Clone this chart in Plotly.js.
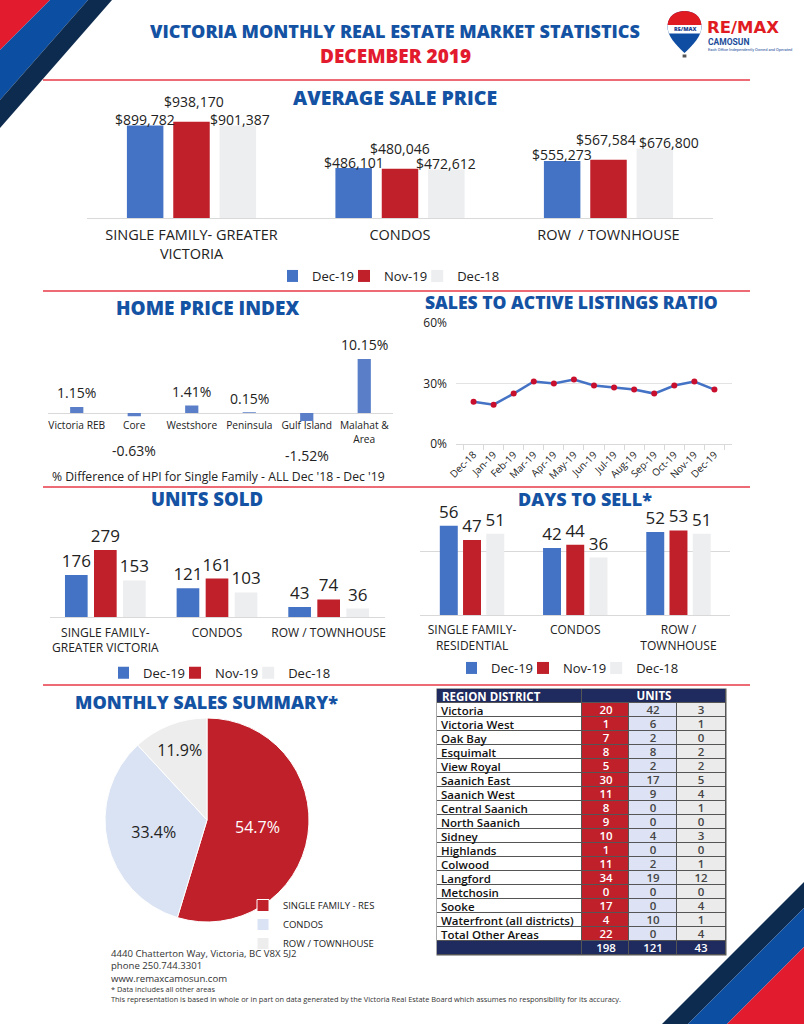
<!DOCTYPE html>
<html><head><meta charset="utf-8">
<script src="https://cdn.plot.ly/plotly-3.0.1.min.js"></script>
<style>html,body{margin:0;padding:0;background:#fff;}#chart{width:804px;height:1024px;}</style>
</head><body><div id="chart"></div>
<script>
// ---------------- DATA ----------------
const seriesNames = ['Dec-19', 'Nov-19', 'Dec-18'];

const priceCategories = ['SINGLE FAMILY- GREATER<br>VICTORIA', 'CONDOS', 'ROW  / TOWNHOUSE'];
const priceDec19 = [899782, 486101, 555273];
const priceNov19 = [938170, 480046, 567584];
const priceDec18 = [901387, 472612, 676800];

const hpiCategories = ['Victoria REB', 'Core', 'Westshore', 'Peninsula', 'Gulf Island', 'Malahat &<br>Area'];
const hpiChange = [1.15, -0.63, 1.41, 0.15, -1.52, 10.15];

const ratioMonths = ['Dec-18', 'Jan-19', 'Feb-19', 'Mar-19', 'Apr-19', 'May-19', 'Jun-19', 'Jul-19', 'Aug-19', 'Sep-19', 'Oct-19', 'Nov-19', 'Dec-19'];
const ratioValues = [21, 19.5, 25, 31, 30, 32, 29, 28, 27, 25, 29, 31, 27];
const ratioTicks = [0, 30, 60];

const unitsCategories = ['SINGLE FAMILY-<br>GREATER VICTORIA', 'CONDOS', 'ROW / TOWNHOUSE'];
const unitsDec19 = [176, 121, 43];
const unitsNov19 = [279, 161, 74];
const unitsDec18 = [153, 103, 36];

const daysCategories = ['SINGLE FAMILY-<br>RESIDENTIAL', 'CONDOS', 'ROW /<br>TOWNHOUSE'];
const daysDec19 = [56, 42, 52];
const daysNov19 = [47, 44, 53];
const daysDec18 = [51, 36, 51];

const pieLabels = ['SINGLE FAMILY - RES', 'CONDOS', 'ROW / TOWNHOUSE'];

const tableHeader = ['REGION DISTRICT', 'UNITS'];
const tableRegions = ['Victoria', 'Victoria West', 'Oak Bay', 'Esquimalt', 'View Royal', 'Saanich East', 'Saanich West', 'Central Saanich', 'North Saanich', 'Sidney', 'Highlands', 'Colwood', 'Langford', 'Metchosin', 'Sooke', 'Waterfront (all districts)', 'Total Other Areas'];
const tableSingleFamily = [20, 1, 7, 8, 5, 30, 11, 8, 9, 10, 1, 11, 34, 0, 17, 4, 22];
const tableCondos = [42, 6, 2, 8, 2, 17, 9, 0, 0, 4, 0, 2, 19, 0, 0, 10, 0];
const tableRow = [3, 1, 0, 2, 2, 5, 4, 1, 0, 3, 0, 1, 12, 0, 4, 1, 4];
const tableTotals = [198, 121, 43];

// ---------------- STYLE ----------------
const FONT = "'Open Sans', 'Noto Sans', sans-serif";
const BLUE = '#4472c4', RED = '#c0202a', GREY = '#edeef0';
const TITLE = '#1452a3', BRAND_RED = '#e31b2f', NAVY = '#1f2a5e';
const INK = '#222222', RULE = '#e63a46', AXIS = '#d9d9d9';
const W = 804, H = 1024;
const X = p => p / W;
const Y = p => 1 - p / H;
const dx = (a, b) => [X(a), X(b)];
const dy = (top, bottom) => [Y(bottom), Y(top)];
function pathPx(s) {
  const t = s.trim().split(/\s+/); const out = []; let isX = true;
  t.forEach(tok => {
    if (/^[A-Za-z]$/.test(tok)) out.push(tok);
    else { const n = parseFloat(tok); out.push((isX ? X(n) : Y(n)).toFixed(5)); isX = !isX; }
  });
  return out.join(' ');
}
const money = v => '$' + v.toLocaleString('en-US');

const shapes = [];
const ann = [];
function poly(d, color) { shapes.push({type: 'path', xref: 'paper', yref: 'paper', path: pathPx(d), fillcolor: color, line: {width: 0}, layer: 'below'}); }
function rule(y, x0, x1) { shapes.push({type: 'line', xref: 'paper', yref: 'paper', x0: X(x0), x1: X(x1), y0: Y(y), y1: Y(y), line: {color: RULE, width: 1.5}}); }
function txt(x, y, text, size, color, extra, weight, family) {
  ann.push(Object.assign({xref: 'paper', yref: 'paper', x: X(x), y: Y(y), text: text, showarrow: false,
    xanchor: 'center', yanchor: 'middle', font: {family: family || FONT, size: size, color: color, weight: weight || 400}}, extra || {}));
}
function title(x, y, text, size, color) { txt(x, y, text, size, color, {}, 800); }

// corner stripes
poly('M 0 0 L 50 0 L 0 50 Z', BRAND_RED);
poly('M 50 0 L 88 0 L 0 100 L 0 50 Z', '#0b4ea2');
poly('M 88 0 L 112 0 L 0 128 L 0 100 Z', '#0d2b4e');
poly('M 804 882 L 804 908 L 688 1024 L 662 1024 Z', '#0d2b4e');
poly('M 804 908 L 804 947 L 727 1024 L 688 1024 Z', '#0b4ea2');
poly('M 804 947 L 804 1024 L 727 1024 Z', BRAND_RED);

// section rules
rule(80, 43, 750); rule(291, 43, 750); rule(487, 43, 750); rule(685, 43, 750);

// logo balloon
poly('M 684.5 53 C 676 45 667 36 667.5 26 C 668 16 676 11 684.5 11 C 693 11 701 16 701.5 26 C 702 36 693 45 684.5 53 Z', '#0f4da2');
poly('M 667.6 25 C 668 16 676 11 684.5 11 C 693 11 701 16 701.4 25 Z', '#e11b22');
poly('M 667.6 25 L 701.4 25 C 701.3 28 701 31 700.2 33.5 L 668.8 33.5 C 668 31 667.7 28 667.6 25 Z', '#ffffff');
poly('M 682.6 54.5 L 686.4 54.5 L 686.4 57.5 L 682.6 57.5 Z', '#555555');
txt(684.5, 29.3, 'RE/MAX', 5.5, '#1b3f8f', {}, 800);
txt(705, 27, 'RE/MAX', 16.5, '#e11b22', {xanchor: 'left'}, 700, "'DejaVu Sans', sans-serif");
txt(706, 42, 'CAMOSUN', 8.5, '#1b4c9a', {xanchor: 'left'}, 700, "Roboto, sans-serif");
txt(706, 49.6, 'Each Office Independently Owned and Operated', 4, '#1b4c9a', {xanchor: 'left'}, 400, "Roboto, sans-serif");

// header + section titles
title(395, 31, 'VICTORIA MONTHLY REAL ESTATE MARKET STATISTICS', 18, TITLE);
title(395, 56, 'DECEMBER 2019', 19, BRAND_RED);
title(395, 97, 'AVERAGE SALE PRICE', 19.5, TITLE);
title(207, 308, 'HOME PRICE INDEX', 19, TITLE);
title(571, 302, 'SALES TO ACTIVE LISTINGS RATIO', 17.5, TITLE);
title(206.5, 498, 'UNITS SOLD', 18.5, TITLE);
title(585, 499, 'DAYS TO SELL*', 18, TITLE);
title(206, 702, 'MONTHLY SALES SUMMARY*', 18, TITLE);
txt(218, 476, "% Difference of HPI for Single Family - ALL Dec '18 - Dec '19", 12.2, INK);

// footer
txt(109, 966, '4440 Chatterton Way, Victoria, BC V8X 5J2<br>phone 250.744.3301<br>www.remaxcamosun.com', 9.6, '#333', {xanchor: 'left', align: 'left'});
txt(109, 993.5, '* Data includes all other areas<br>This representation is based in whole or in part on data generated by the Victoria Real Estate Board which assumes no responsibility for its accuracy.', 7.4, '#333', {xanchor: 'left', align: 'left'});

// ---------------- TRACES ----------------
const colors = [BLUE, RED, GREY];
const traces = [];

function groupBars(seriesList, xa, ya, legendId, slot, width, withText) {
  seriesList.forEach((vals, k) => {
    const t = {type: 'bar', x: vals.map((v, i) => i), y: vals, name: seriesNames[k], xaxis: xa, yaxis: ya,
      offset: (k - 1) * slot - width / 2, width: width, marker: {color: colors[k]}, legend: legendId,
      hoverinfo: 'skip', cliponaxis: false};
    if (withText) {
      Object.assign(t, {text: vals.map(String), textposition: 'outside', textangle: 0, constraintext: 'none',
        textfont: {family: FONT, size: 17, color: INK}});
    }
    traces.push(t);
  });
}

// 1) Average sale price
const slotP = 0.2223, widthP = 0.175;
const priceSeries = [priceDec19, priceNov19, priceDec18];
groupBars(priceSeries, 'x', 'y', 'legend', slotP, widthP, false);
const priceLift = [6, 20, 6];
const priceNudge = [[0, 0, 0], [2, 0, -3], [2, 0, 14]];
priceSeries.forEach((vals, k) => vals.forEach((v, i) => {
  ann.push({xref: 'x', yref: 'y', x: i + (k - 1) * slotP, y: v, text: money(v), showarrow: false,
    xanchor: 'center', yanchor: 'middle', yshift: priceLift[k], xshift: priceNudge[k][i],
    font: {family: FONT, size: 14, color: INK}});
}));

// 2) Home price index
traces.push({type: 'bar', x: hpiChange.map((v, i) => i), y: hpiChange, xaxis: 'x2', yaxis: 'y2', width: 0.23,
  marker: {color: '#5a7fc8'}, showlegend: false, hoverinfo: 'skip'});
hpiChange.forEach((v, i) => {
  ann.push({xref: 'x2', yref: 'y2', x: i, y: v, text: v.toFixed(2) + '%', showarrow: false, xanchor: 'center', yanchor: 'middle',
    yshift: v >= 0 ? 14 : -34, font: {family: FONT, size: 14, color: INK}});
});

// 3) Sales to active listings ratio
traces.push({type: 'scatter', mode: 'lines+markers', x: ratioMonths, y: ratioValues, xaxis: 'x3', yaxis: 'y3',
  line: {color: BLUE, width: 2.5}, marker: {color: '#c8102e', size: 6}, showlegend: false, hoverinfo: 'skip', cliponaxis: false});

// 4) Units sold
groupBars([unitsDec19, unitsNov19, unitsDec18], 'x4', 'y4', 'legend2', 0.26, 0.203, true);

// 5) Days to sell
groupBars([daysDec19, daysNov19, daysDec18], 'x5', 'y5', 'legend3', 0.225, 0.174, true);

// 6) Pie
traces.push({type: 'pie', values: tableTotals, labels: pieLabels, domain: {x: dx(105, 309), y: dy(718, 922)},
  sort: false, direction: 'clockwise', rotation: 0,
  marker: {colors: [RED, '#dae3f3', '#ededed'], line: {color: '#ffffff', width: 1}},
  texttemplate: '%{percent:.1%}', textposition: 'inside', insidetextorientation: 'horizontal',
  insidetextfont: {family: FONT, size: 16, color: ['#ffffff', INK, INK]},
  legend: 'legend4', hoverinfo: 'skip'});

// 7) Table drawn as a heatmap grid
const tableColumnWidths = [144, 47, 47, 49];
const colEdges = [0];
tableColumnWidths.forEach(w => colEdges.push(colEdges[colEdges.length - 1] + w));
const zRows = [[4, 4, 4, 4]], tRows = [['', '', '', '']];
tableRegions.forEach((r, i) => {
  zRows.push([0, 1, 2, 3]);
  tRows.push(['', String(tableSingleFamily[i]), String(tableCondos[i]), String(tableRow[i])]);
});
zRows.push([4, 4, 4, 4]);
tRows.push([''].concat(tableTotals.map(String)));
const rowEdges = zRows.map((r, i) => i - 0.5).concat([zRows.length - 0.5]);
const tableScale = [[0, '#ffffff'], [0.125, '#ffffff'], [0.125, RED], [0.375, RED], [0.375, '#dde3f4'], [0.625, '#dde3f4'],
  [0.625, '#ebebeb'], [0.875, '#ebebeb'], [0.875, NAVY], [1, NAVY]];
const cellStyle = {type: 'heatmap', texttemplate: '%{text}', textfont: {family: FONT, size: 11.5, weight: 600},
  colorscale: tableScale, zmin: 0, zmax: 4, showscale: false, xgap: 1, ygap: 1, xaxis: 'x6', yaxis: 'y6', hoverinfo: 'skip'};
traces.push(Object.assign({}, cellStyle, {x: colEdges, y: rowEdges, z: zRows, text: tRows}));
traces.push(Object.assign({}, cellStyle, {x: [colEdges[0], colEdges[1], colEdges[colEdges.length - 1]], y: [-0.5, 0.5],
  z: [[4, 4]], text: [['', tableHeader[1]]], textfont: {family: FONT, size: 11.5, weight: 700}}));
shapes.push({type: 'rect', xref: 'paper', yref: 'paper', x0: X(436.5), x1: X(726.5), y0: Y(955.5), y1: Y(688.5),
  fillcolor: '#555555', line: {width: 0}, layer: 'below'});
ann.push({xref: 'paper', yref: 'y6', x: X(440), y: 0, text: tableHeader[0], showarrow: false, xanchor: 'left', yanchor: 'middle',
  font: {family: FONT, size: 11.5, color: '#ffffff', weight: 700}});
tableRegions.forEach((r, i) => ann.push({xref: 'paper', yref: 'y6', x: X(439), y: i + 1, text: r, showarrow: false,
  xanchor: 'left', yanchor: 'middle', font: {family: FONT, size: 11.5, color: '#111111', weight: 600}}));

// ---------------- LAYOUT ----------------
const tickFont = (s) => ({family: FONT, size: s, color: INK});
const hpiZeroPx = 413, hpiPpu = 5.32, hpiBottomPx = 440;
const legendBase = {orientation: 'h', xanchor: 'center', yanchor: 'middle', bgcolor: 'rgba(0,0,0,0)',
  font: {family: FONT, size: 13, color: INK}, itemwidth: 30, indentation: -15};

const layout = {
  width: W, height: H, margin: {l: 0, r: 0, t: 0, b: 0}, paper_bgcolor: '#ffffff', plot_bgcolor: 'rgba(0,0,0,0)',
  font: {family: FONT, color: INK}, hovermode: false, shapes: shapes, annotations: ann,
  xaxis: {domain: dx(87.25, 712.75), anchor: 'y', range: [-0.5, 2.5], tickvals: [0, 1, 2], ticktext: priceCategories,
    showgrid: false, zeroline: false, showline: true, linecolor: AXIS, ticks: 'outside', ticklen: 4, tickcolor: 'rgba(0,0,0,0)', tickfont: tickFont(14.5), fixedrange: true},
  yaxis: {domain: dy(218 - 102.7, 218), anchor: 'x', range: [0, 1000000], visible: false, fixedrange: true},
  xaxis2: {domain: dx(48, 393), anchor: 'free', position: Y(hpiZeroPx), range: [-0.5, 5.5], tickvals: [0, 1, 2, 3, 4, 5], ticktext: hpiCategories,
    showgrid: false, zeroline: false, showline: false, ticks: 'outside', ticklen: 3, tickcolor: 'rgba(0,0,0,0)', tickfont: tickFont(10.2), fixedrange: true},
  yaxis2: {domain: dy(hpiZeroPx - 12 * hpiPpu, hpiBottomPx), anchor: 'x2', range: [-(hpiBottomPx - hpiZeroPx) / hpiPpu, 12], tickvals: [12],
    showgrid: true, gridcolor: AXIS, showticklabels: false, zeroline: true, zerolinecolor: AXIS, zerolinewidth: 1, ticks: '', fixedrange: true},
  xaxis3: {domain: dx(456, 732), anchor: 'y3', type: 'category', tickangle: -45, tickfont: tickFont(10), showgrid: false, zeroline: false,
    showline: true, linecolor: AXIS, ticks: 'outside', tickson: 'boundaries', ticklen: 5, tickcolor: AXIS, fixedrange: true},
  yaxis3: {domain: dy(323, 444), anchor: 'x3', range: [0, 60], tickvals: ratioTicks, ticktext: ratioTicks.map(v => v + '%'), tickfont: tickFont(12),
    showgrid: true, gridcolor: '#e3e3e3', zeroline: false, ticks: '', ticklabelstandoff: 8, fixedrange: true},
  xaxis4: {domain: dx(49.5, 384.5), anchor: 'y4', range: [-0.5, 2.5], tickvals: [0, 1, 2], ticktext: unitsCategories,
    showgrid: false, zeroline: false, showline: true, linecolor: AXIS, ticks: 'outside', ticklen: 4, tickcolor: 'rgba(0,0,0,0)', tickfont: tickFont(12), fixedrange: true},
  yaxis4: {domain: dy(617.3 - 72.3, 617.3), anchor: 'x4', range: [0, 300], visible: false, fixedrange: true},
  xaxis5: {domain: dx(420.4, 730.1), anchor: 'y5', range: [-0.5, 2.5], tickvals: [0, 1, 2], ticktext: daysCategories,
    showgrid: false, zeroline: false, showline: true, linecolor: AXIS, ticks: 'outside', ticklen: 4, tickcolor: 'rgba(0,0,0,0)', tickfont: tickFont(12), fixedrange: true},
  yaxis5: {domain: dy(615 - 60 * 1.595, 615), anchor: 'x5', range: [0, 60], tickvals: [40], showgrid: true, gridcolor: AXIS,
    showticklabels: false, zeroline: false, ticks: '', fixedrange: true},
  xaxis6: {domain: dx(437, 726), anchor: 'y6', range: [colEdges[0], colEdges[colEdges.length - 1]], visible: false, fixedrange: true},
  yaxis6: {domain: dy(689, 955), anchor: 'x6', range: [zRows.length - 0.5, -0.5], visible: false, fixedrange: true},
  legend: Object.assign({}, legendBase, {x: X(396), y: Y(276)}),
  legend2: Object.assign({}, legendBase, {x: X(227), y: Y(672.7)}),
  legend3: Object.assign({}, legendBase, {x: X(575), y: Y(668)}),
  legend4: {orientation: 'v', x: X(243), y: Y(891), xanchor: 'left', yanchor: 'top', bgcolor: 'rgba(0,0,0,0)',
    font: {family: FONT, size: 9.5, color: INK}, itemwidth: 30}
};

Plotly.newPlot('chart', traces, layout, {displayModeBar: false, staticPlot: true});
</script>
</body></html>
